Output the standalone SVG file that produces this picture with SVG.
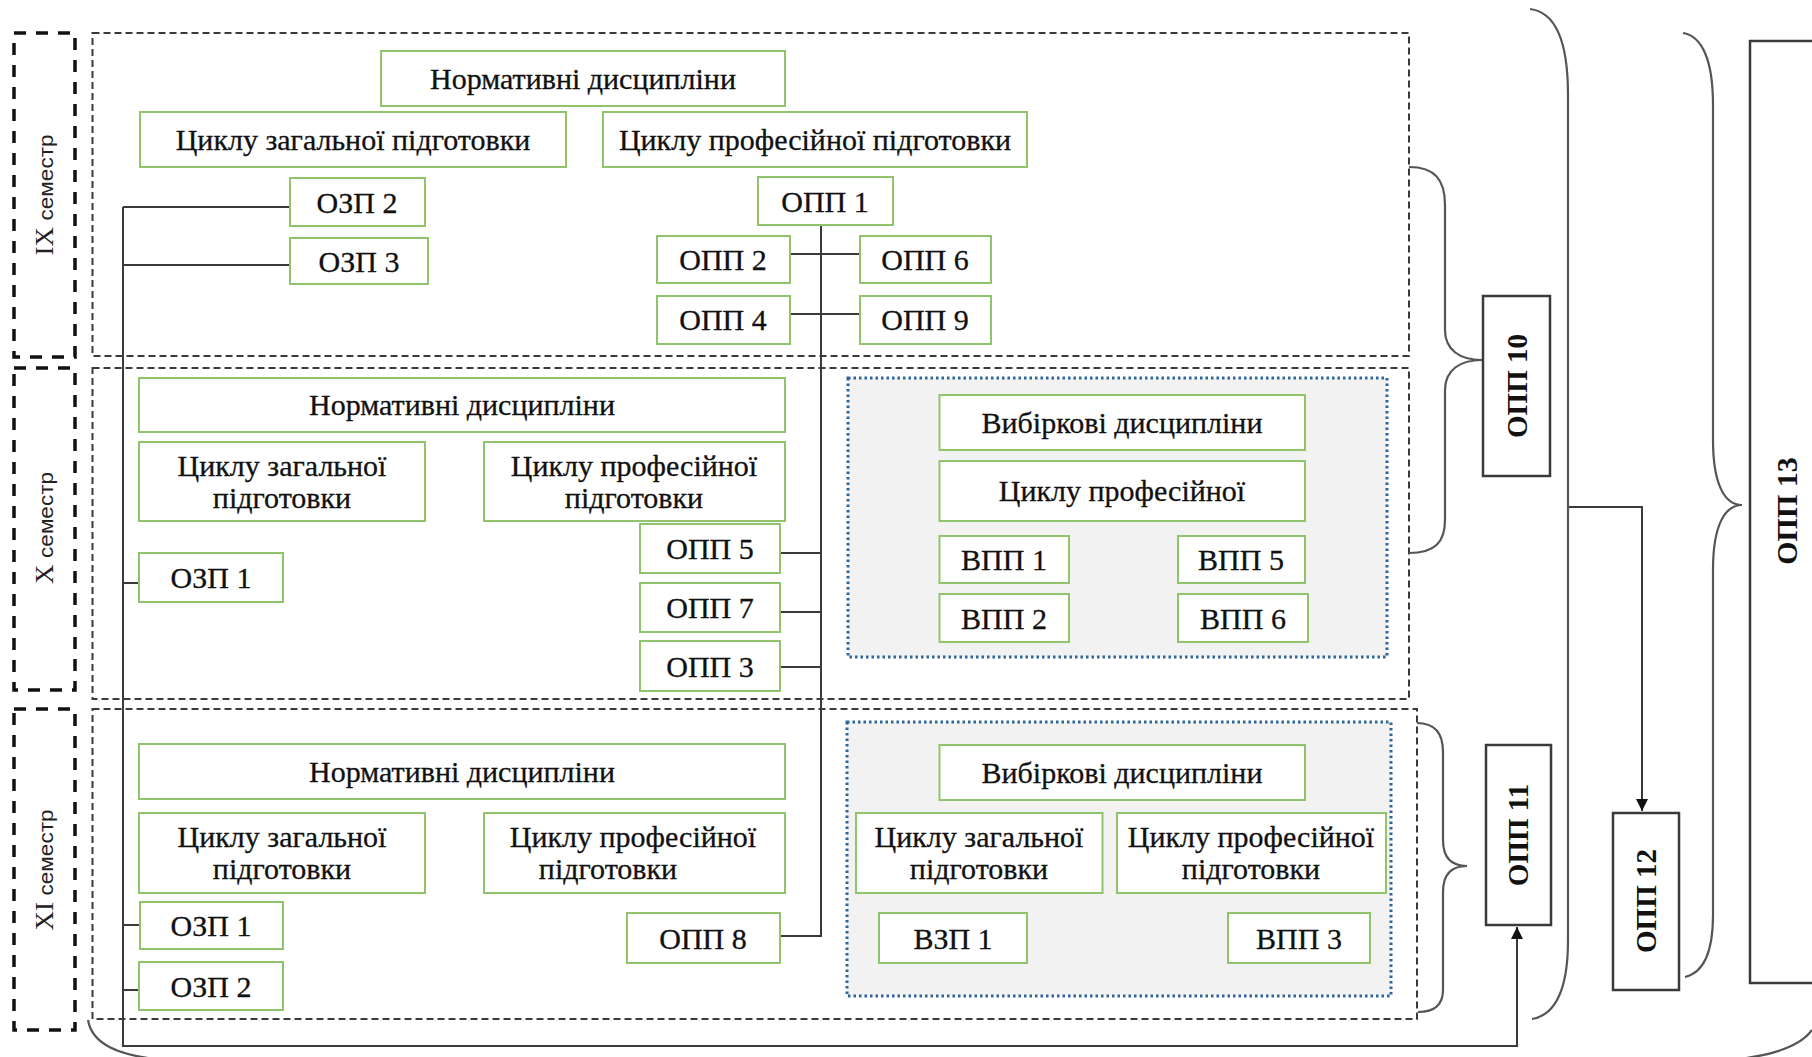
<svg xmlns="http://www.w3.org/2000/svg" width="1812" height="1057" viewBox="0 0 1812 1057">
<style>
.sem{fill:none;stroke:#111;stroke-width:3.5;stroke-dasharray:12 10}
.area{fill:none;stroke:#3a3a3a;stroke-width:2;stroke-dasharray:7 4}
.elec{fill:#f2f2f2;stroke:#2f6496;stroke-width:3;stroke-dasharray:2.5 3}
.g{fill:#fff;stroke:#8fc46a;stroke-width:2}
.b{fill:#fff;stroke:#3a3a3a;stroke-width:2.5}
.t{font-family:"Liberation Serif","Times New Roman",serif;font-size:30px;fill:#111;stroke:#111;stroke-width:0.3;text-anchor:middle}
.tb{font-family:"Liberation Serif","Times New Roman",serif;font-size:29px;font-weight:bold;fill:#111;text-anchor:middle}
.ln{fill:none;stroke:#3a3a3a;stroke-width:2}
.br{fill:none;stroke:#555;stroke-width:2.2}
.sl{font-family:"Liberation Sans",Arial,sans-serif;font-size:21px;fill:#222}
.sr{font-family:"Liberation Serif","Times New Roman",serif;font-size:25px;fill:#222}
</style>
<defs>
<marker id="ah" viewBox="0 0 10 10" refX="10" refY="5" markerWidth="12" markerHeight="12" markerUnits="userSpaceOnUse" orient="auto">
<path d="M0,0 L10,5 L0,10 z" fill="#111"/>
</marker>
</defs>

<g id="semesters">
<rect class="sem" x="14" y="33" width="61" height="324"/>
<rect class="sem" x="14" y="368" width="61" height="322"/>
<rect class="sem" x="14" y="709" width="61" height="321"/>
<text transform="translate(53,195) rotate(-90)" text-anchor="middle" textLength="121" lengthAdjust="spacingAndGlyphs"><tspan class="sr">IX </tspan><tspan class="sl">семестр</tspan></text>
<text transform="translate(53,528) rotate(-90)" text-anchor="middle" textLength="112" lengthAdjust="spacingAndGlyphs"><tspan class="sr">X </tspan><tspan class="sl">семестр</tspan></text>
<text transform="translate(53,870) rotate(-90)" text-anchor="middle" textLength="121" lengthAdjust="spacingAndGlyphs"><tspan class="sr">XI </tspan><tspan class="sl">семестр</tspan></text>
</g>

<g id="areas">
<rect class="area" x="92.5" y="33" width="1316.5" height="323"/>
<rect class="area" x="92.5" y="368" width="1316.5" height="331"/>
<rect class="area" x="92.5" y="709" width="1324.5" height="310"/>
<rect class="elec" x="848" y="378" width="539" height="279"/>
<rect class="elec" x="847" y="722" width="544" height="274"/>
</g>

<g id="connectors">
<path class="ln" d="M123,207 L123,1046 L1517,1046 L1517,927" marker-end="url(#ah)"/>
<path class="ln" d="M123,207 L290,207 M123,265 L290,265 M123,583 L139,583 M123,925 L140,925 M123,990 L139,990"/>
<path class="ln" d="M821,225 L821,936 L780,936"/>
<path class="ln" d="M790,254 L860,254 M790,314 L860,314 M780,553 L821,553 M780,612 L821,612 M780,667 L821,667"/>
<path class="ln" d="M1568,507 L1642,507 L1642,811" marker-end="url(#ah)"/>
</g>

<g id="braces">
<path class="br" d="M1409,167 C1435,167 1445,180 1445,205 L1445,330 C1445,350 1460,360 1482,360 C1460,360 1445,370 1445,390 L1445,520 C1445,542 1435,553 1409,553"/>
<path class="br" d="M1417,723 C1435,723 1443,733 1443,752 L1443,840 C1443,858 1452,866 1467,866 C1452,866 1443,874 1443,892 L1443,990 C1443,1005 1435,1012 1418,1012"/>
<path class="br" d="M1530,9 C1555,12 1568,40 1568,95 L1568,940 C1568,990 1555,1015 1532,1019"/>
<path class="br" d="M1683,33 C1702,36 1713,60 1713,105 L1713,440 C1713,485 1725,505 1742,505 C1725,505 1713,525 1713,570 L1713,915 C1713,955 1702,973 1685,977"/>
<path class="br" d="M88,1020 C92,1044 118,1056 165,1060"/>
<path class="br" d="M1812,1030 C1800,1047 1772,1056 1730,1060"/>
</g>

<g id="n-ix-norm"><rect class="g" x="381" y="51" width="404" height="55"/><text class="t" x="583" y="89">Нормативні дисципліни</text></g>
<g id="n-ix-zag"><rect class="g" x="140" y="112" width="426" height="55"/><text class="t" x="353" y="150">Циклу загальної підготовки</text></g>
<g id="n-ix-prof"><rect class="g" x="603" y="112" width="424" height="55"/><text class="t" x="815" y="150">Циклу професійної підготовки</text></g>
<g id="n-ix-ozp2"><rect class="g" x="290" y="178" width="135" height="48"/><text class="t" x="357" y="213">ОЗП 2</text></g>
<g id="n-ix-ozp3"><rect class="g" x="290" y="238" width="138" height="46"/><text class="t" x="359" y="272">ОЗП 3</text></g>
<g id="n-ix-opp1"><rect class="g" x="758" y="177" width="135" height="48"/><text class="t" x="825" y="212">ОПП 1</text></g>
<g id="n-ix-opp2"><rect class="g" x="657" y="236" width="133" height="47"/><text class="t" x="723" y="270">ОПП 2</text></g>
<g id="n-ix-opp6"><rect class="g" x="860" y="236" width="131" height="47"/><text class="t" x="925" y="270">ОПП 6</text></g>
<g id="n-ix-opp4"><rect class="g" x="657" y="296" width="133" height="48"/><text class="t" x="723" y="330">ОПП 4</text></g>
<g id="n-ix-opp9"><rect class="g" x="860" y="296" width="131" height="48"/><text class="t" x="925" y="330">ОПП 9</text></g>

<g id="n-x-norm"><rect class="g" x="139" y="378" width="646" height="54"/><text class="t" x="462" y="415">Нормативні дисципліни</text></g>
<g id="n-x-zag"><rect class="g" x="139" y="442" width="286" height="79"/><text class="t" x="282" y="476">Циклу загальної</text><text class="t" x="282" y="508">підготовки</text></g>
<g id="n-x-prof"><rect class="g" x="484" y="442" width="301" height="79"/><text class="t" x="634" y="476">Циклу професійної</text><text class="t" x="634" y="508">підготовки</text></g>
<g id="n-x-opp5"><rect class="g" x="640" y="524" width="140" height="49"/><text class="t" x="710" y="559">ОПП 5</text></g>
<g id="n-x-opp7"><rect class="g" x="640" y="583" width="140" height="49"/><text class="t" x="710" y="618">ОПП 7</text></g>
<g id="n-x-opp3"><rect class="g" x="640" y="641" width="140" height="50"/><text class="t" x="710" y="677">ОПП 3</text></g>
<g id="n-x-ozp1"><rect class="g" x="139" y="553" width="144" height="49"/><text class="t" x="211" y="588">ОЗП 1</text></g>
<g id="n-x-vyb"><rect class="g" x="939.5" y="395" width="365.5" height="55"/><text class="t" x="1122" y="433">Вибіркові дисципліни</text></g>
<g id="n-x-vprof"><rect class="g" x="939.5" y="461" width="365.5" height="60"/><text class="t" x="1122" y="501">Циклу професійної</text></g>
<g id="n-x-vpp1"><rect class="g" x="939.5" y="536" width="129.5" height="47"/><text class="t" x="1004" y="570">ВПП 1</text></g>
<g id="n-x-vpp5"><rect class="g" x="1178" y="536" width="127" height="47"/><text class="t" x="1241" y="570">ВПП 5</text></g>
<g id="n-x-vpp2"><rect class="g" x="939.5" y="594" width="129.5" height="48"/><text class="t" x="1004" y="629">ВПП 2</text></g>
<g id="n-x-vpp6"><rect class="g" x="1178" y="594" width="130" height="48"/><text class="t" x="1243" y="629">ВПП 6</text></g>

<g id="n-xi-norm"><rect class="g" x="139" y="744" width="646" height="55"/><text class="t" x="462" y="782">Нормативні дисципліни</text></g>
<g id="n-xi-zag"><rect class="g" x="139" y="813" width="286" height="80"/><text class="t" x="282" y="847">Циклу загальної</text><text class="t" x="282" y="879">підготовки</text></g>
<g id="n-xi-prof"><rect class="g" x="484" y="813" width="301" height="80"/><text class="t" x="633" y="847">Циклу професійної</text><text class="t" x="608" y="879">підготовки</text></g>
<g id="n-xi-ozp1"><rect class="g" x="140" y="902" width="143" height="47"/><text class="t" x="211" y="936">ОЗП 1</text></g>
<g id="n-xi-ozp2"><rect class="g" x="139" y="962" width="144" height="48"/><text class="t" x="211" y="997">ОЗП 2</text></g>
<g id="n-xi-opp8"><rect class="g" x="627" y="913" width="153" height="50"/><text class="t" x="703" y="949">ОПП 8</text></g>
<g id="n-xi-vyb"><rect class="g" x="939.5" y="745" width="365.5" height="55"/><text class="t" x="1122" y="783">Вибіркові дисципліни</text></g>
<g id="n-xi-vzag"><rect class="g" x="856" y="813" width="246.5" height="80"/><text class="t" x="979" y="847">Циклу загальної</text><text class="t" x="979" y="879">підготовки</text></g>
<g id="n-xi-vprof"><rect class="g" x="1117" y="813" width="269" height="80"/><text class="t" x="1251" y="847">Циклу професійної</text><text class="t" x="1251" y="879">підготовки</text></g>
<g id="n-xi-vzp1"><rect class="g" x="879" y="913" width="148" height="50"/><text class="t" x="953" y="949">ВЗП 1</text></g>
<g id="n-xi-vpp3"><rect class="g" x="1228" y="913" width="142" height="50"/><text class="t" x="1299" y="949">ВПП 3</text></g>

<g id="n-opp10"><rect class="b" x="1483" y="296" width="67" height="180"/><text class="tb" transform="translate(1527,386) rotate(-90)">ОПП 10</text></g>
<g id="n-opp11"><rect class="b" x="1486" y="745" width="65" height="180"/><text class="tb" transform="translate(1528,835) rotate(-90)">ОПП 11</text></g>
<g id="n-opp12"><rect class="b" x="1613" y="813" width="66" height="177"/><text class="tb" transform="translate(1656,901) rotate(-90)">ОПП 12</text></g>
<g id="n-opp13"><rect class="b" x="1750" y="41" width="90" height="942"/><text class="tb" style="font-size:30px" transform="translate(1797,511) rotate(-90)">ОПП 13</text></g>
</svg>
